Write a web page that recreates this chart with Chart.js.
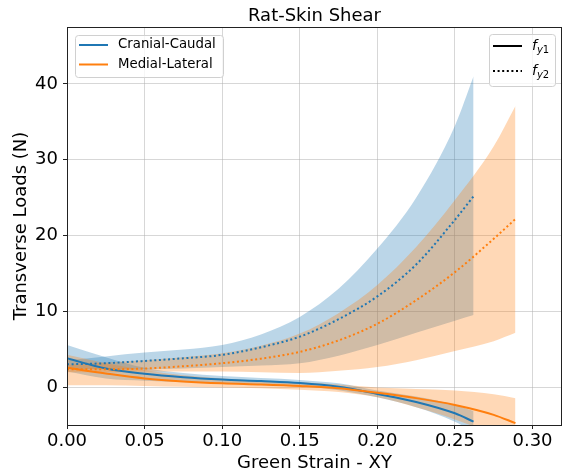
<!DOCTYPE html>
<html>
<head>
<meta charset="utf-8">
<script src="https://cdn.jsdelivr.net/npm/chart.js@4/dist/chart.umd.min.js"></script>
<style>
  body { margin: 0; background: #fff; }
  #wrap { width: 572px; height: 476px; }
</style>
</head>
<body>
<div id="wrap"><canvas id="shearChart" width="572" height="476"></canvas></div>
<script>
// Cranial-Caudal direction
const ccX    = [0, 0.025, 0.05, 0.075, 0.1, 0.125, 0.15, 0.175, 0.2, 0.225, 0.25, 0.262];
const ccFy1   = [3.85, 2.5, 1.8, 1.35, 1.05, 0.85, 0.6, 0.1, -0.85, -1.9, -3.4, -4.5];
const ccFy1Hi = [5.6, 4.0, 2.6, 1.9, 1.5, 1.25, 1.0, 0.55, -0.4, -1.2, -2.3, -3.1];
const ccFy1Lo = [2.1, 1.2, 0.9, 0.7, 0.55, 0.4, 0.2, -0.35, -1.3, -2.6, -4.5, -5.9];
const ccFy2   = [3.05, 3.2, 3.5, 3.85, 4.3, 5.3, 6.7, 9.0, 12.0, 16.2, 22.1, 25.2];
const ccFy2Hi = [3.6, 4.1, 4.6, 5.0, 5.6, 7.0, 9.3, 13.0, 18.3, 25.0, 34.5, 41.0];
const ccFy2Lo = [2.5, 2.4, 2.4, 2.5, 2.7, 2.9, 3.2, 4.2, 5.6, 7.2, 8.8, 9.55];

// Medial-Lateral direction
const mlX    = [0, 0.025, 0.05, 0.075, 0.1, 0.125, 0.15, 0.175, 0.2, 0.225, 0.25, 0.275, 0.289];
const mlFy1   = [2.6, 1.85, 1.2, 0.8, 0.55, 0.4, 0.2, -0.1, -0.7, -1.4, -2.3, -3.6, -4.7];
const mlFy1Hi = [4.3, 3.2, 2.3, 1.6, 1.2, 0.9, 0.7, 0.4, 0.0, -0.2, -0.4, -0.9, -1.4];
const mlFy1Lo = [0.3, 0.3, 0.2, 0.1, 0.0, -0.1, -0.3, -0.6, -1.3, -2.6, -4.2, -6.3, -8.0];
const mlFy2   = [2.4, 2.4, 2.5, 2.8, 3.2, 3.8, 4.7, 6.2, 8.4, 11.5, 15.2, 19.6, 22.2];
const mlFy2Hi = [3.0, 3.3, 3.6, 4.0, 4.5, 5.5, 7.1, 9.8, 13.5, 18.5, 24.7, 31.8, 37.1];
const mlFy2Lo = [2.0, 2.0, 2.1, 2.1, 2.1, 2.0, 1.9, 2.2, 2.7, 3.6, 4.8, 6.1, 7.2];

const seriesNames = ['Cranial-Caudal', 'Medial-Lateral'];
const BLUE = '#1f77b4';
const ORANGE = '#ff7f0e';
const FONT = 'DejaVu Sans';

function pts(xs, ys) {
    return xs.map((x, i) => ({x: x, y: ys[i]}));
}

function line(xs, ys, color, dotted, order) {
    return {
        data: pts(xs, ys),
        borderColor: color,
        borderWidth: 2,
        borderDash: dotted ? [2, 2.6] : [],
        pointRadius: 0,
        fill: false,
        cubicInterpolationMode: 'monotone',
        order: order
    };
}

// upper edge fills down to the next dataset (lower edge)
function band(xs, hi, lo, fillColor, order) {
    return [{
        data: pts(xs, hi),
        borderWidth: 0,
        pointRadius: 0,
        backgroundColor: fillColor,
        fill: '+1',
        cubicInterpolationMode: 'monotone',
        order: order
    }, {
        data: pts(xs, lo),
        borderWidth: 0,
        pointRadius: 0,
        fill: false,
        cubicInterpolationMode: 'monotone',
        order: order
    }];
}

const datasets = [
    line(mlX, mlFy1, ORANGE, false, 0),
    line(mlX, mlFy2, ORANGE, true, 0),
    line(ccX, ccFy1, BLUE, false, 1),
    line(ccX, ccFy2, BLUE, true, 1),
    ...band(mlX, mlFy1Hi, mlFy1Lo, 'rgba(255,127,14,0.3)', 2),
    ...band(mlX, mlFy2Hi, mlFy2Lo, 'rgba(255,127,14,0.3)', 2),
    ...band(ccX, ccFy1Hi, ccFy1Lo, 'rgba(31,119,180,0.3)', 3),
    ...band(ccX, ccFy2Hi, ccFy2Lo, 'rgba(31,119,180,0.3)', 3)
];

function legendBox(ctx, x, y, w, h) {
    ctx.save();
    ctx.fillStyle = 'rgba(255,255,255,0.8)';
    ctx.strokeStyle = '#d0d0d0';
    ctx.lineWidth = 1;
    ctx.beginPath();
    ctx.roundRect(x + 0.5, y + 0.5, w, h, 3);
    ctx.fill();
    ctx.stroke();
    ctx.restore();
}

const extras = {
    id: 'extras',
    afterDraw(chart) {
        const ctx = chart.ctx;
        const a = chart.chartArea;
        ctx.save();
        // frame
        ctx.strokeStyle = '#222';
        ctx.lineWidth = 1;
        ctx.strokeRect(a.left + 0.5, a.top + 0.5, a.right - a.left - 1, a.bottom - a.top);
        // title
        ctx.fillStyle = '#000';
        ctx.font = '18px ' + FONT;
        ctx.textAlign = 'center';
        ctx.textBaseline = 'alphabetic';
        ctx.fillText('Rat-Skin Shear', (a.left + a.right) / 2, 21);

        // left legend: directions
        legendBox(ctx, 75, 35, 148, 42);
        ctx.font = '13.3px ' + FONT;
        ctx.textAlign = 'left';
        ctx.textBaseline = 'middle';
        [BLUE, ORANGE].forEach((c, i) => {
            const y = 45 + i * 19.5;
            ctx.strokeStyle = c;
            ctx.lineWidth = 2;
            ctx.beginPath();
            ctx.moveTo(79, y);
            ctx.lineTo(108, y);
            ctx.stroke();
            ctx.fillStyle = '#000';
            ctx.fillText(seriesNames[i], 118, y);
        });

        // right legend: components
        legendBox(ctx, 489, 34, 66, 52);
        ['1', '2'].forEach((n, i) => {
            const y = 46 + i * 25;
            ctx.strokeStyle = '#000';
            ctx.lineWidth = 2;
            ctx.setLineDash(i ? [2, 2.6] : []);
            ctx.beginPath();
            ctx.moveTo(493, y);
            ctx.lineTo(522, y);
            ctx.stroke();
            ctx.setLineDash([]);
            ctx.fillStyle = '#000';
            ctx.textBaseline = 'alphabetic';
            ctx.font = 'italic 14px ' + FONT;
            ctx.fillText('f', 532, y + 4);
            let x = 532 + ctx.measureText('f').width;
            ctx.font = 'italic 10px ' + FONT;
            ctx.fillText('y', x, y + 7);
            x += ctx.measureText('y').width;
            ctx.font = '10px ' + FONT;
            ctx.fillText(n, x, y + 7);
        });
        ctx.restore();
    }
};

new Chart(document.getElementById('shearChart'), {
    type: 'line',
    data: { datasets: datasets },
    plugins: [extras],
    options: {
        responsive: false,
        animation: false,
        devicePixelRatio: 1,
        layout: { padding: { top: 27, right: 10, left: 0, bottom: 0 } },
        plugins: {
            legend: { display: false },
            tooltip: { enabled: false },
            filler: { drawTime: 'beforeDatasetsDraw' }
        },
        scales: {
            x: {
                type: 'linear',
                min: 0,
                max: 0.319,
                afterFit: s => { s.height = 51; },
                ticks: {
                    stepSize: 0.05,
                    includeBounds: false,
                    autoSkip: false,
                    maxRotation: 0,
                    padding: 2,
                    color: '#000',
                    font: { family: FONT, size: 18 },
                    callback: v => v.toFixed(2)
                },
                grid: { color: 'rgba(176,176,176,0.5)', tickColor: '#222', tickLength: 4 },
                border: { display: false },
                title: {
                    display: true,
                    text: 'Green Strain - XY',
                    color: '#000',
                    font: { family: FONT, size: 18 },
                    padding: { top: 0, bottom: 2 }
                }
            },
            y: {
                type: 'linear',
                min: -4.94,
                max: 47.5,
                afterFit: s => { s.width = 67; },
                ticks: {
                    stepSize: 10,
                    includeBounds: false,
                    padding: 5,
                    color: '#000',
                    font: { family: FONT, size: 18 }
                },
                grid: { color: 'rgba(176,176,176,0.5)', tickColor: '#222', tickLength: 4 },
                border: { display: false },
                title: {
                    display: true,
                    text: 'Transverse Loads (N)',
                    color: '#000',
                    font: { family: FONT, size: 18 },
                    padding: { top: 11, bottom: 0 }
                }
            }
        }
    }
});
</script>
</body>
</html>
